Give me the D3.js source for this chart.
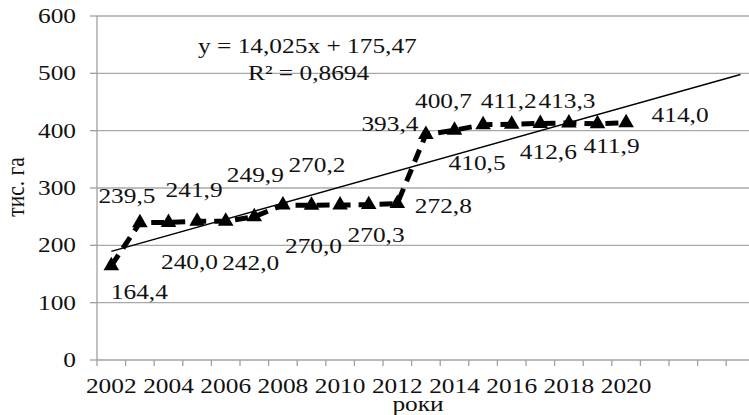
<!DOCTYPE html>
<html>
<head>
<meta charset="utf-8">
<script src="https://cdn.jsdelivr.net/npm/d3@7"></script>
<style>
  html, body { margin: 0; padding: 0; background: #fff; }
  svg { display: block; }
  text { font-family: "Liberation Serif", "Times New Roman", serif; fill: #111; }
</style>
</head>
<body>
<svg id="chart"></svg>
<script>
// data
const years  = [2002, 2003, 2004, 2005, 2006, 2007, 2008, 2009, 2010, 2011,
                2012, 2013, 2014, 2015, 2016, 2017, 2018, 2019, 2020];
const values = [164.4, 239.5, 240.0, 241.9, 242.0, 249.9, 270.2, 270.0, 270.3, 271.0,
                272.8, 393.4, 400.7, 410.5, 411.2, 412.6, 413.3, 411.9, 414.0];
const valueLabels = ['164,4', '239,5', '240,0', '241,9', '242,0', '249,9', '270,2', '270,0', '270,3', '',
                     '272,8', '393,4', '400,7', '410,5', '411,2', '412,6', '413,3', '411,9', '414,0'];
const xTickLabels = ['2002', '2004', '2006', '2008', '2010', '2012', '2014', '2016', '2018', '2020'];
const yTicks      = [0, 100, 200, 300, 400, 500, 600];
const trend       = { slope: 14.025, intercept: 175.47, forward: 4 };
const trendText   = ['y = 14,025x + 175,47', 'R\u00B2 = 0,8694'];

// label placement (px offset from point), kept apart from the data
const labelOffsets = [[28, 33], [-13, -20], [21, 47], [-3, -24], [25, 49], [1, -35], [34, -33],
                      [2, 48], [36, 37], [0, 0], [46, 9], [-36, -3], [-11, -22], [-6, 45],
                      [-3, -16], [8, 36], [-2, -15], [14, 29], [54, -1]];

const width = 749, height = 415;
const SX = 1.18;            // the source image is stretched sideways
const FS = 21.5;

const svg = d3.select('#chart').attr('width', width).attr('height', height);

const nCat = years.length + trend.forward;
const x = d3.scaleLinear().domain([0.5, nCat + 0.5]).range([97, 97 + 28.6 * nCat]);
const y = d3.scaleLinear().domain([0, 600]).range([360, 16]);

function put(sel, px, py) {
  return sel.attr('transform', `translate(${px},${py}) scale(${SX},1)`);
}

// grid
svg.append('g').selectAll('line')
  .data(yTicks.filter(v => v > 0))
  .join('line')
  .attr('x1', x.range()[0]).attr('x2', x.range()[1])
  .attr('y1', d => y(d)).attr('y2', d => y(d))
  .attr('stroke', '#a8a8a8').attr('stroke-width', 1.3);

// axes
svg.append('line')
  .attr('x1', x.range()[0]).attr('x2', x.range()[0])
  .attr('y1', y(600)).attr('y2', y(0))
  .attr('stroke', '#a0a0a0').attr('stroke-width', 1.3);
svg.append('line')
  .attr('x1', x.range()[0]).attr('x2', x.range()[1])
  .attr('y1', y(0)).attr('y2', y(0))
  .attr('stroke', '#a0a0a0').attr('stroke-width', 1.3);

// y ticks + labels
svg.append('g').selectAll('line')
  .data(yTicks).join('line')
  .attr('x1', x.range()[0] - 7).attr('x2', x.range()[0])
  .attr('y1', d => y(d)).attr('y2', d => y(d))
  .attr('stroke', '#a0a0a0').attr('stroke-width', 1.3);
svg.append('g').selectAll('text')
  .data(yTicks).join('text')
  .attr('text-anchor', 'end').attr('font-size', FS)
  .each(function(d) { put(d3.select(this), 76, y(d) + 7); })
  .text(d => d);

// x ticks at category boundaries
svg.append('g').selectAll('line')
  .data(d3.range(0, nCat + 1)).join('line')
  .attr('x1', d => x(d + 0.5)).attr('x2', d => x(d + 0.5))
  .attr('y1', y(0)).attr('y2', y(0) + 6)
  .attr('stroke', '#a0a0a0').attr('stroke-width', 1.3);
svg.append('g').selectAll('text')
  .data(xTickLabels).join('text')
  .attr('text-anchor', 'middle').attr('font-size', FS)
  .each(function(d) { put(d3.select(this), x(years.indexOf(+d) + 1), 393); })
  .text(d => d);

// axis titles
svg.append('text')
  .attr('text-anchor', 'middle').attr('font-size', FS)
  .attr('transform', `translate(24,187) rotate(-90) scale(1,${SX})`)
  .text('тис. га');
put(svg.append('text').attr('text-anchor', 'middle').attr('font-size', FS), 418, 411)
  .text('роки');

// trend line (with forecast forward)
svg.append('line')
  .attr('x1', x(1)).attr('y1', y(trend.slope * 1 + trend.intercept))
  .attr('x2', x(nCat)).attr('y2', y(trend.slope * nCat + trend.intercept))
  .attr('stroke', '#000').attr('stroke-width', 1.4);

// series: thick dashed line with triangle markers
const pts = years.map((yr, i) => ({ i: i + 1, v: values[i], label: valueLabels[i], off: labelOffsets[i] }));
svg.append('path')
  .datum(pts)
  .attr('d', d3.line().x(d => x(d.i)).y(d => y(d.v)))
  .attr('fill', 'none').attr('stroke', '#000')
  .attr('stroke-width', 5).attr('stroke-dasharray', '13,8');

svg.append('g').selectAll('path')
  .data(pts).join('path')
  .attr('d', d3.symbol(d3.symbolTriangle, 105))
  .attr('transform', d => `translate(${x(d.i)},${y(d.v)})`)
  .attr('fill', '#000');

// data labels
svg.append('g').selectAll('text')
  .data(pts.filter(d => d.label)).join('text')
  .attr('text-anchor', 'middle').attr('font-size', FS)
  .each(function(d) { put(d3.select(this), x(d.i) + d.off[0], y(d.v) + d.off[1]); })
  .text(d => d.label);

// equation
put(svg.append('text').attr('font-size', FS), 198, 53).text(trendText[0]);
put(svg.append('text').attr('font-size', FS), 248, 80).text(trendText[1]);
</script>
</body>
</html>
